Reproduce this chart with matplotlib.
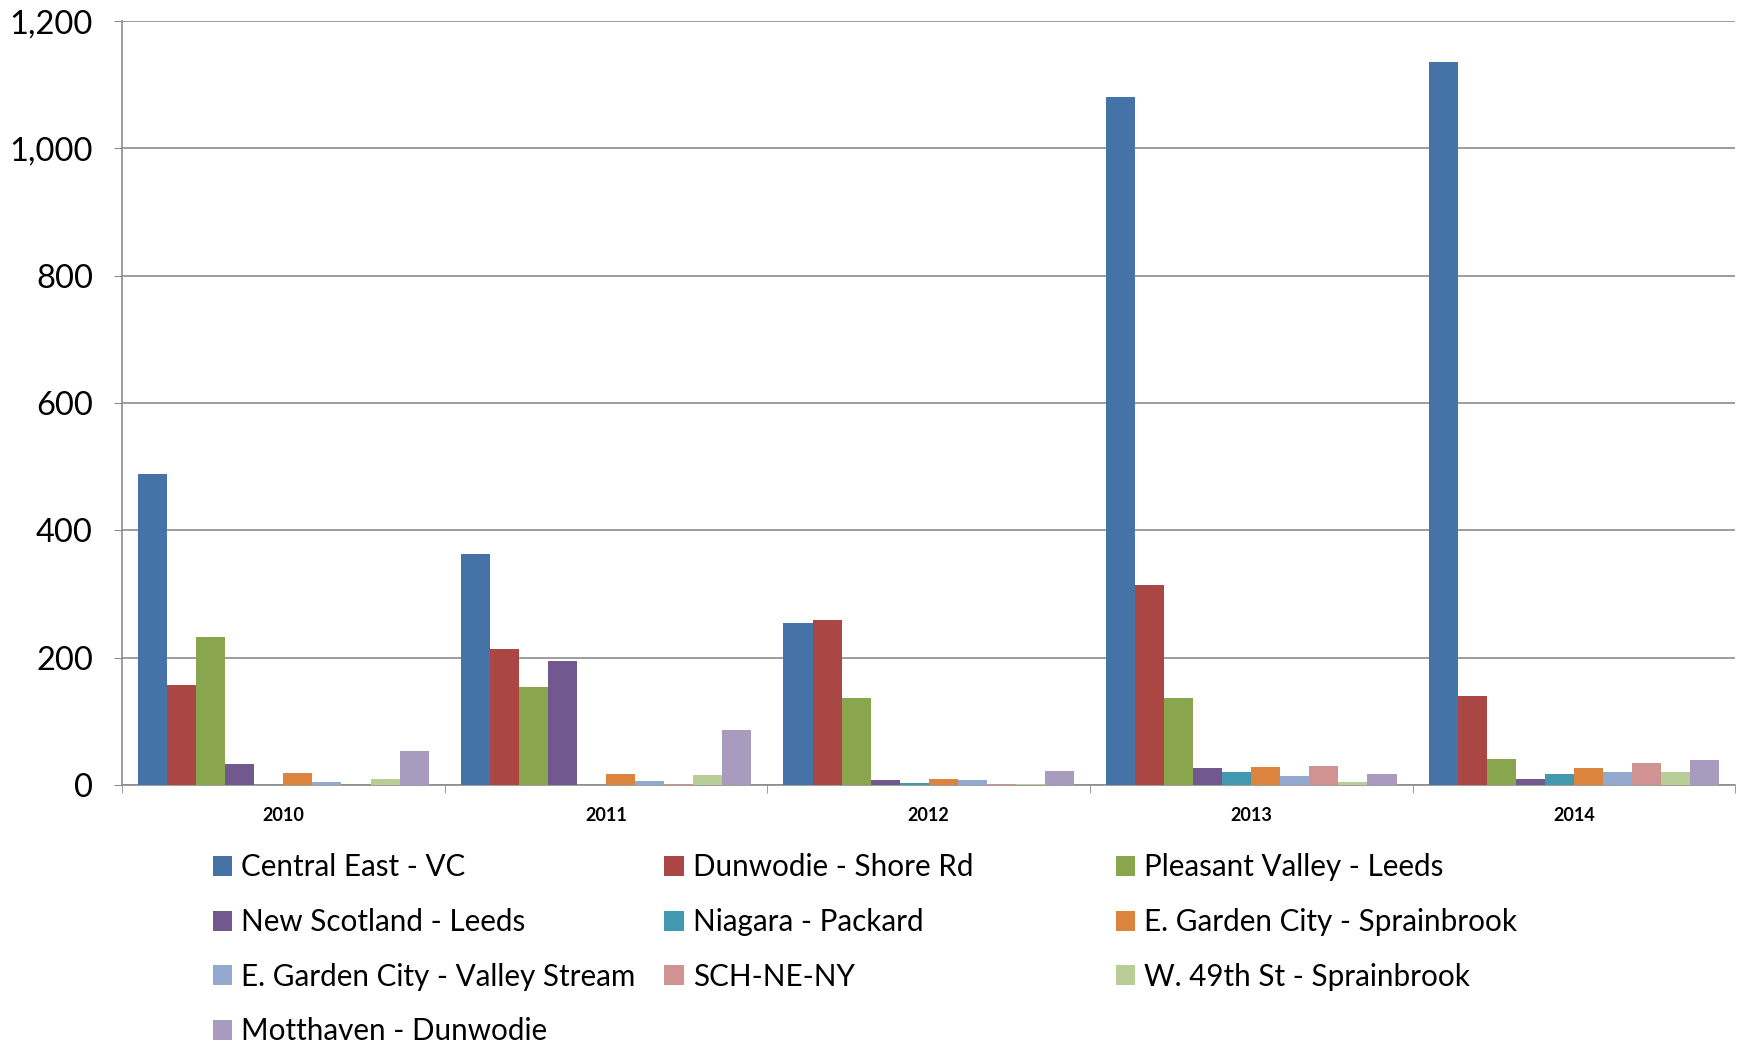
import numpy as np
import matplotlib.pyplot as plt
from matplotlib.patches import Patch
from matplotlib.ticker import FuncFormatter

plt.rcParams['font.family'] = ['Lato', 'DejaVu Sans']

years = ['2010', '2011', '2012', '2013', '2014']
series = ['Central East - VC', 'Dunwodie - Shore Rd', 'Pleasant Valley - Leeds',
          'New Scotland - Leeds', 'Niagara - Packard', 'E. Garden City - Sprainbrook',
          'E. Garden City - Valley Stream', 'SCH-NE-NY', 'W. 49th St - Sprainbrook',
          'Motthaven - Dunwodie']
colors = ['#4572A7', '#AA4643', '#89A54E', '#71588F', '#4198AF',
          '#DB843D', '#93A9CF', '#D19392', '#B9CD96', '#A99BBD']

central_east = [489, 363, 255, 1081, 1135]
dunwodie = [157, 213, 260, 314, 140]
pleasant_valley = [232, 154, 136, 136, 41]
new_scotland = [33, 195, 8, 26, 9]
niagara = [0, 0, 3, 20, 18]
egc_sprainbrook = [19, 17, 10, 28, 27]
egc_valley = [5, 6, 8, 14, 20]
sch_ne_ny = [0, 2, 2, 30, 35]
w49th = [9, 15, 1.5, 4, 20]
motthaven = [53, 87, 22, 18, 39]

values = [central_east, dunwodie, pleasant_valley, new_scotland, niagara,
          egc_sprainbrook, egc_valley, sch_ne_ny, w49th, motthaven]

fig = plt.figure(figsize=(17.44, 10.42), dpi=100)
ax = fig.add_axes([0.07, 0.2466, 0.925, 0.7332])

x = np.arange(len(years))
n = len(series)
width = 0.9 / n
for i in range(n):
    ax.bar(x - 0.45 + width * (i + 0.5), values[i], width, color=colors[i], zorder=3)

ax.set_xlim(-0.5, len(years) - 0.5)
ax.set_ylim(0, 1200)
ax.set_yticks(np.arange(0, 1201, 200))
ax.yaxis.set_major_formatter(FuncFormatter(lambda v, p: '{:,.0f}'.format(v)))
ax.grid(axis='y', color='#8c8c8c', linewidth=1.2, zorder=0)

ax.set_xticks(x)
ax.set_xticklabels(years, fontsize=13, fontweight='bold')
ax.set_xticks(np.arange(-0.5, len(years), 1), minor=True)
ax.tick_params(axis='x', which='major', length=0, pad=16)
ax.tick_params(axis='x', which='minor', length=6, color='#8c8c8c')
ax.tick_params(axis='y', labelsize=23.5, length=6, color='#8c8c8c', pad=15)

for s in ['top', 'right']:
    ax.spines[s].set_visible(False)
for s in ['left', 'bottom']:
    ax.spines[s].set_color('#8c8c8c')
    ax.spines[s].set_linewidth(1.2)

handles = [Patch(facecolor=colors[i], label=series[i]) for i in range(n)]
col_x = [0.122, 0.381, 0.640]
for c in range(3):
    idx = list(range(c, n, 3))
    fig.legend([handles[i] for i in idx], [series[i] for i in idx],
               loc='upper left', bbox_to_anchor=(col_x[c], 0.181),
               frameon=False, fontsize=21.3, handlelength=0.65, handleheight=0.65,
               handletextpad=0.3, labelspacing=0.9, borderaxespad=0, borderpad=0)

plt.savefig('out.png', dpi=100)
